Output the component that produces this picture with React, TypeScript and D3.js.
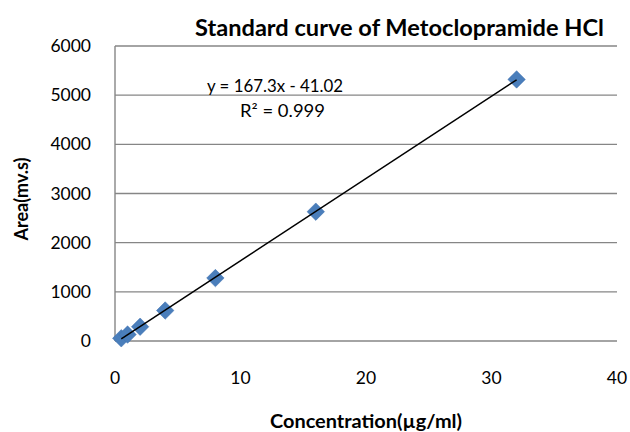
import React from "react";
import * as d3 from "d3";

const concentrations = [0.5, 1, 2, 4, 8, 16, 32];
const areas = [55, 130, 290, 620, 1280, 2630, 5320];
const xTicks = [0, 10, 20, 30, 40];
const yTicks = [0, 1000, 2000, 3000, 4000, 5000, 6000];
const slope = 167.3;
const intercept = -41.02;
const titleText = "Standard curve of Metoclopramide HCl";
const equationText = "y = 167.3x - 41.02";
const r2Text = "R² = 0.999";
const xTitle = "Concentration(µg/ml)";
const yTitle = "Area(mv.s)";

export default function App() {
  const W = 630, H = 432;
  const x = d3.scaleLinear().domain([0, 40]).range([115, 617]);
  const y = d3.scaleLinear().domain([0, 6000]).range([341, 46]);
  const font = "Lato, 'Open Sans', sans-serif";
  const xs = d3.extent(concentrations) as [number, number];
  const line = d3.line<number>().x((d) => x(d)).y((d) => y(slope * d + intercept));
  const diamond = d3.symbol().type(d3.symbolDiamond2).size(195)() as string;
  return (
    <svg width={W} height={H} style={{ position: "absolute", left: 0, top: 0 }} fontFamily={font}>
      <rect width={W} height={H} fill="#fff" />
      {yTicks.map((t) => (
        <line key={t} x1={x(0)} x2={x(40)} y1={y(t)} y2={y(t)} stroke="#868686" strokeWidth={1.4} />
      ))}
      <line x1={x(0)} x2={x(0)} y1={y(0)} y2={y(6000)} stroke="#868686" strokeWidth={1.4} />
      {yTicks.map((t) => (
        <text key={t} x={91} y={y(t) + 6} textAnchor="end" fontSize={17.5} fill="#000">{t}</text>
      ))}
      {xTicks.map((t) => (
        <text key={t} x={x(t)} y={384} textAnchor="middle" fontSize={17.5} fill="#000">{t}</text>
      ))}
      {concentrations.map((c, i) => (
        <path key={i} d={diamond} transform={`translate(${x(c)},${y(areas[i])})`} fill="#4a7ebb" stroke="#3d6fae" strokeWidth={0.5} />
      ))}
      <path d={line(xs) as string} stroke="#000" strokeWidth={1.5} fill="none" />
      <text x={207} y={92} fontSize={17} textLength={136} lengthAdjust="spacingAndGlyphs" fill="#000">{equationText}</text>
      <text x={240} y={117} fontSize={17} textLength={85} lengthAdjust="spacingAndGlyphs" fill="#000">{r2Text}</text>
      <text x={195} y={36} fontSize={22} fontWeight="bold" textLength={409} lengthAdjust="spacingAndGlyphs" fill="#000">{titleText}</text>
      <text x={270} y={428} fontSize={18} fontWeight="bold" textLength={192} lengthAdjust="spacingAndGlyphs" fill="#000">{xTitle}</text>
      <text transform="translate(28,199) rotate(-90)" textAnchor="middle" fontSize={18} fontWeight="bold" fill="#000">{yTitle}</text>
    </svg>
  );
}
